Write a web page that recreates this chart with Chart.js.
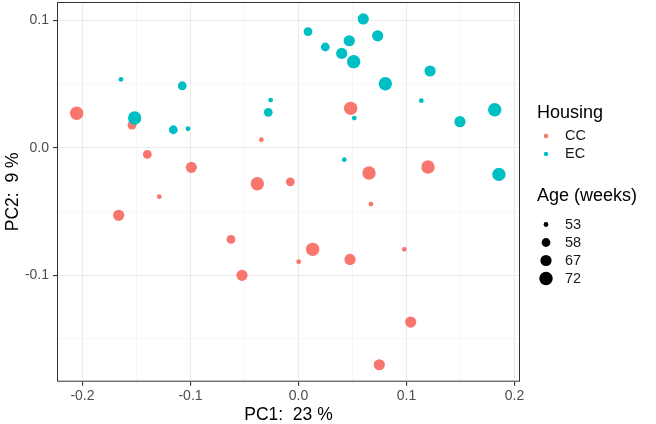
<!DOCTYPE html>
<html>
<head>
<meta charset="utf-8">
<script src="https://cdn.jsdelivr.net/npm/chart.js@4.4.0/dist/chart.umd.min.js"></script>
<style>
  html, body { margin: 0; padding: 0; background: #fff; }
  #wrap { width: 656px; height: 424px; }
</style>
</head>
<body>
<div id="wrap"><canvas id="pcaChart" width="656" height="424"></canvas></div>
<script>
// PCA scores
var ccX = [-0.2054, -0.1542, -0.0344, -0.1400, -0.0992, -0.0381, -0.0076, -0.1289, 0.0483, 0.0653, 0.1199,
           -0.1665, -0.0625, 0.0002, -0.0523, 0.0671, 0.0131, 0.0477, 0.0980, 0.1039, 0.0748];
var ccY = [0.0270, 0.0178, 0.0063, -0.0052, -0.0154, -0.0282, -0.0267, -0.0384, 0.0309, -0.0198, -0.0151,
           -0.0530, -0.0719, -0.0894, -0.1001, -0.0442, -0.0797, -0.0876, -0.0797, -0.1367, -0.1702];
var ccAge = [72, 58, 53, 58, 67, 72, 58, 53, 72, 72, 72,
             67, 58, 53, 67, 53, 72, 67, 53, 67, 67];

var ecX = [-0.1644, -0.1076, -0.1517, -0.1159, -0.1023, -0.0280, -0.0258, 0.0088, 0.0600, 0.0733, 0.0248,
           0.0470, 0.0400, 0.0511, 0.1218, 0.0804, 0.1137, 0.0517, 0.1495, 0.1817, 0.0424, 0.1856];
var ecY = [0.0536, 0.0486, 0.0233, 0.0141, 0.0149, 0.0278, 0.0374, 0.0910, 0.1010, 0.0878, 0.0790,
           0.0839, 0.0740, 0.0675, 0.0602, 0.0502, 0.0369, 0.0233, 0.0204, 0.0298, -0.0094, -0.0209];
var ecAge = [53, 58, 72, 58, 53, 58, 53, 58, 67, 67, 58,
             67, 67, 72, 67, 72, 53, 53, 67, 72, 53, 72];

var ageLevels = [53, 58, 67, 72];
var housingLevels = ["CC", "EC"];

var xTitle = "PC1:  23 %";
var yTitle = "PC2:  9 %";

var colCC = "#F8766D";
var colEC = "#00BFC4";
var sizeByAge = { 53: 2.4, 58: 4.4, 67: 5.6, 72: 6.7 };

function toPoints(xs, ys) {
  return xs.map(function(x, i) { return { x: x, y: ys[i] }; });
}

function isMajor(v) {
  return Math.abs(Math.round(v * 10) - v * 10) < 1e-6;
}

var FONT = '"Liberation Sans", Arial, sans-serif';

// panel border + right-hand legends
var panelPlugin = {
  id: "panel",
  afterDraw: function(chart) {
    var ctx = chart.ctx;
    var a = chart.chartArea;
    ctx.save();
    ctx.strokeStyle = "#333333";
    ctx.lineWidth = 1;
    ctx.strokeRect(a.left + 0.5, a.top + 0.5, a.right - a.left - 1, a.bottom - a.top - 1);

    ctx.textBaseline = "middle";
    ctx.textAlign = "left";
    ctx.fillStyle = "#000";
    ctx.font = "18px " + FONT;
    ctx.fillText("Housing", 537, 113);
    ctx.fillText("Age (weeks)", 537, 196);

    ctx.font = "14.5px " + FONT;
    var cols = [colCC, colEC];
    housingLevels.forEach(function(h, i) {
      var y = 136 + i * 18;
      ctx.fillStyle = cols[i];
      ctx.beginPath();
      ctx.arc(546, y, 2.2, 0, Math.PI * 2);
      ctx.fill();
      ctx.fillStyle = "#1a1a1a";
      ctx.fillText(h, 565, y);
    });
    ageLevels.forEach(function(age, i) {
      var y = 224.5 + i * 18;
      ctx.fillStyle = "#000";
      ctx.beginPath();
      ctx.arc(546, y, sizeByAge[age], 0, Math.PI * 2);
      ctx.fill();
      ctx.fillStyle = "#1a1a1a";
      ctx.fillText(String(age), 565, y);
    });
    ctx.restore();
  }
};

var gridOpts = {
  color: function(c) { return isMajor(c.tick.value) ? "#ebebeb" : "#f4f4f4"; },
  lineWidth: function(c) { return isMajor(c.tick.value) ? 1.1 : 0.8; },
  tickColor: function(c) { return isMajor(c.tick.value) ? "#333333" : "rgba(0,0,0,0)"; },
  tickLength: 4
};

var ctx = document.getElementById("pcaChart").getContext("2d");
var chart = new Chart(ctx, {
  type: "scatter",
  data: {
    datasets: [{
      label: "CC",
      data: toPoints(ccX, ccY),
      backgroundColor: colCC,
      borderWidth: 0,
      pointRadius: ccAge.map(function(a) { return sizeByAge[a]; }),
      pointHoverRadius: ccAge.map(function(a) { return sizeByAge[a]; }),
      order: 1
    }, {
      label: "EC",
      data: toPoints(ecX, ecY),
      backgroundColor: colEC,
      borderWidth: 0,
      pointRadius: ecAge.map(function(a) { return sizeByAge[a]; }),
      pointHoverRadius: ecAge.map(function(a) { return sizeByAge[a]; }),
      order: 0
    }]
  },
  options: {
    responsive: false,
    animation: false,
    layout: { autoPadding: false, padding: { top: 2, right: 136, left: 0, bottom: 0 } },
    plugins: { legend: { display: false }, tooltip: { enabled: false } },
    scales: {
      x: {
        type: "linear",
        min: -0.2236,
        max: 0.2051,
        afterFit: function(s) { s.height = 42.3; s.paddingLeft = 0; s.paddingRight = 0; },
        border: { display: false },
        grid: gridOpts,
        ticks: {
          stepSize: 0.05,
          includeBounds: false,
          autoSkip: false,
          maxRotation: 0,
          padding: 2,
          color: "#4d4d4d",
          font: { family: FONT, size: 14 },
          callback: function(v) { return isMajor(v) ? (Math.round(v * 10) / 10).toFixed(1) : ""; }
        },
        title: {
          display: true,
          text: xTitle,
          color: "#000",
          font: { family: FONT, size: 17.5, lineHeight: 1 },
          padding: { top: 0, bottom: 0 }
        }
      },
      y: {
        type: "linear",
        min: -0.1835,
        max: 0.1143,
        afterFit: function(s) { s.width = 57; s.paddingTop = 0; s.paddingBottom = 0; },
        border: { display: false },
        grid: gridOpts,
        ticks: {
          stepSize: 0.05,
          includeBounds: false,
          autoSkip: false,
          padding: 4,
          color: "#4d4d4d",
          font: { family: FONT, size: 14 },
          callback: function(v) { return isMajor(v) ? (Math.round(v * 10) / 10).toFixed(1) : ""; }
        },
        title: {
          display: true,
          text: yTitle,
          color: "#000",
          font: { family: FONT, size: 17.5, lineHeight: 1.2 },
          padding: { top: 3, bottom: 0 }
        }
      }
    }
  },
  plugins: [panelPlugin]
});
</script>
</body>
</html>
